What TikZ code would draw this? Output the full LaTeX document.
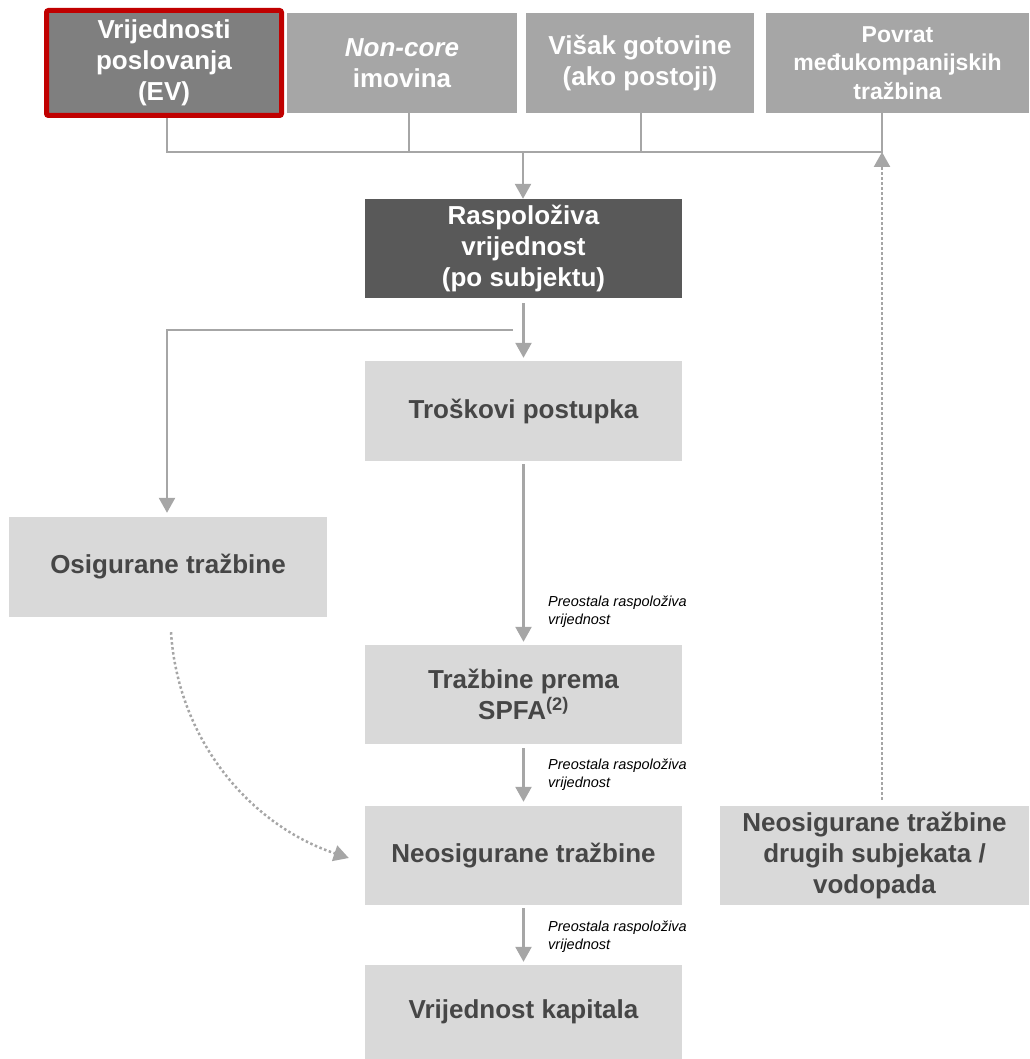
\documentclass[tikz,border=0pt]{standalone}
\usepackage{fontspec}
\setmainfont{Liberation Sans}
\usetikzlibrary{arrows.meta}
\definecolor{topgray}{HTML}{A6A6A6}
\definecolor{evgray}{HTML}{7F7F7F}
\definecolor{evred}{HTML}{C00000}
\definecolor{darkbox}{HTML}{595959}
\definecolor{lightbox}{HTML}{D9D9D9}
\definecolor{boxtext}{HTML}{464646}
\definecolor{linegray}{HTML}{A6A6A6}
\begin{document}
\begin{tikzpicture}[x=1pt,y=-1pt,
  box/.style={inner sep=0pt, align=center, font=\fontsize{26}{31}\selectfont\bfseries},
  topbox/.style={box, fill=topgray, text=white, minimum height=100pt},
  midbox/.style={box, fill=lightbox, text=boxtext, minimum width=317pt},
  conn/.style={draw=linegray, line width=2.5pt},
  tip/.style={-{Triangle[width=16pt,length=15pt]}},
  arr/.style={conn, tip},
  dots/.style={draw=linegray, line width=2.5pt, dash pattern=on 2.5pt off 2.5pt, tip},
  note/.style={font=\fontsize{14.5}{17.5}\selectfont\itshape, text=black, align=left, anchor=north west, inner sep=0pt}]
\useasboundingbox (0,0) rectangle (1029,1059);

% top row
\node[box, fill=evgray, text=white, draw=evred, line width=5pt, rounded corners=2pt,
      minimum width=235pt, minimum height=105pt] (ev) at (164,63) {Vrijednosti\\poslovanja\\(EV)};
\node[topbox, minimum width=230pt] (nc) at (402,63) {\textit{Non-core}\\imovina};
\node[topbox, minimum width=228pt] (vg) at (640,63) {Višak gotovine\\(ako postoji)};
\node[topbox, minimum width=263pt, font=\fontsize{23}{28.5}\selectfont\bfseries] (pov) at (897.5,63) {Povrat\\međukompanijskih\\tražbina};

% middle column
\node[box, fill=darkbox, text=white, minimum width=317pt, minimum height=99pt] (rasp) at (523.5,248.5) {Raspoloživa\\vrijednost\\(po subjektu)};
\node[midbox, minimum height=100pt] (tros) at (523.5,411) {Troškovi postupka};
\node[midbox, minimum height=99pt] (spfa) at (523.5,694.5) {Tražbine prema\\SPFA\textsuperscript{(2)}};
\node[midbox, minimum height=99pt] (neos) at (523.5,855.5) {Neosigurane tražbine};
\node[midbox, minimum height=94pt] (kap) at (523.5,1012) {Vrijednost kapitala};

% side boxes
\node[box, fill=lightbox, text=boxtext, minimum width=318pt, minimum height=100pt] (osig) at (168,567) {Osigurane tražbine};
\node[box, fill=lightbox, text=boxtext, minimum width=309pt, minimum height=99pt] (nd) at (874.5,855.5) {Neosigurane tražbine\\drugih subjekata /\\vodopada};

% notes
\node[note] (lab1) at (548,596) {Preostala raspoloživa\\vrijednost};
\node[note] (lab2) at (548,759) {Preostala raspoloživa\\vrijednost};
\node[note] (lab3) at (548,921) {Preostala raspoloživa\\vrijednost};

% collector line
\coordinate (j1) at (167,152);
\coordinate (j2) at (409,152);
\coordinate (j3) at (641,152);
\coordinate (j4) at (882,152);
\coordinate (jm) at (523,152);
\draw[conn] (j1 |- ev.south) -- (j1) -- (j4) -- (j4 |- pov.south);
\draw[conn] (j2 |- nc.south) -- (j2);
\draw[conn] (j3 |- vg.south) -- (j3);
\draw[arr] (jm) -- (jm |- rasp.north);

% main flow
\draw[arr, shorten <=5pt, shorten >=3pt] (rasp.south) -- (tros.north);
\coordinate (b1) at (513,330);
\coordinate (b2) at (167,330);
\draw[arr, shorten >=4pt] (b1) -- (b2) -- (b2 |- osig.north);
\draw[arr, shorten <=3pt, shorten >=3pt] (tros.south) -- (spfa.north);
\draw[arr, shorten <=4pt, shorten >=4pt] (spfa.south) -- (neos.north);
\draw[arr, shorten <=3pt, shorten >=3pt] (neos.south) -- (kap.north);

% dotted connectors
\draw[dots] ([xshift=3pt,yshift=-15pt]osig.south) .. controls (178,740) and (250,825) .. ([xshift=-16pt,yshift=-2.5pt]neos.west);
\draw[dots, shorten <=6pt] (j4 |- nd.north) -- (j4);
\end{tikzpicture}
\end{document}
